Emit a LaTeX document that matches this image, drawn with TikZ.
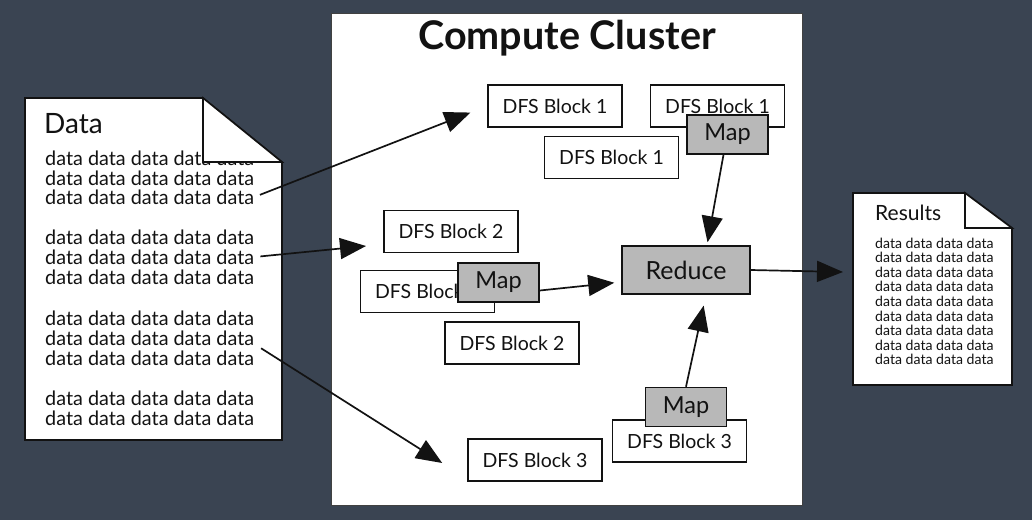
\documentclass[tikz,border=0pt]{standalone}
\usepackage{fontspec}
\setmainfont{Lato}
\usetikzlibrary{arrows.meta,calc}
\definecolor{slate}{RGB}{58,68,82}
\definecolor{mapgrey}{RGB}{184,184,184}
\definecolor{ink}{RGB}{18,18,18}
\begin{document}
\begin{tikzpicture}[x=1pt,y=-1pt,
  outline/.style={draw=ink,line width=1.6pt},
  blk/.style={outline,fill=white,minimum width=134pt,minimum height=42pt,inner sep=0pt,text=ink,font=\fontsize{19.5}{21}\selectfont},
  mapbox/.style={outline,fill=mapgrey,minimum width=81pt,minimum height=39pt,inner sep=0pt,text=ink,font=\fontsize{23.5}{25}\selectfont},
  dline/.style={anchor=west,inner sep=0pt,text=ink,font=\fontsize{19.8}{21}\selectfont},
  rline/.style={anchor=west,inner sep=0pt,text=ink,font=\fontsize{14.1}{15}\selectfont},
  arr/.style={draw=ink,line width=1.7pt,-{Triangle[length=26pt,width=21pt]}}
]
% canvas
\useasboundingbox (0,0) rectangle (1032,520);
\fill[slate] (0,0) rectangle (1032,520);

% input document
\draw[outline,fill=white] (25,98) -- (203,98) -- (282,162) -- (282,440) -- (25,440) -- cycle;
\node[anchor=west,inner sep=0pt,text=ink,font=\fontsize{28}{30}\selectfont] (dtitle) at (44,124) {Data};
\foreach \i/\y in {1/158,2/178,3/197,4/237,5/257,6/277,7/318,8/338,9/358,10/398,11/418}
  \node[dline] (d\i) at (45,\y) {data data data data data};
\draw[outline,fill=white] (203,98) -- (203,162) -- (282,162) -- cycle;

% cluster frame
\draw[draw=ink!80,line width=1pt,fill=white] (331,13) rectangle (802,505);
\node[inner sep=0pt,text=ink,font=\fontsize{39.5}{41}\bfseries\selectfont] (title) at (567,38) {Compute Cluster};

% DFS blocks and tasks
\node[blk] (b1a) at (555,106) {DFS Block 1};
\node[blk] (b1b) at (717.5,106) {DFS Block 1};
\node[mapbox] (map1) at (727.5,134.5) {Map};
\node[blk] (b1c) at (611.5,157.5) {DFS Block 1};
\node[blk] (b2a) at (451,231.5) {DFS Block 2};
\node[blk] (b2b) at (427.5,291.5) {DFS Block 2};
\node[mapbox] (map2) at (498.5,282.5) {Map};
\node[blk] (b2c) at (512,343) {DFS Block 2};
\node[blk,text depth=-8pt] (b3b) at (679.5,441) {DFS Block 3};
\node[mapbox] (map3) at (686,407) {Map};
\node[blk] (b3a) at (535,460) {DFS Block 3};
\node[mapbox,minimum width=128pt,minimum height=48pt,font=\fontsize{25}{27}\selectfont] (reduce) at (686,270) {Reduce};

% output document
\draw[outline,fill=white] (853,193) -- (965,193) -- (1012,228) -- (1012,385) -- (853,385) -- cycle;
\draw[outline,fill=white] (965,193) -- (965,228) -- (1012,228) -- cycle;
\node[anchor=west,inner sep=0pt,text=ink,font=\fontsize{21}{23}\selectfont] (rtitle) at (875,213) {Results};
\foreach \i in {1,...,9}
  \node[rline] (r\i) at (875,{243+14.6*(\i-1)}) {data data data data};

% data flow
\coordinate (t2) at (366,246);
\draw[arr,shorten <=6pt,shorten >=18pt] (d3.east) -- (b1a.west);
\draw[arr,shorten <=6pt] (d5.east) -- (t2);
\draw[arr,shorten <=8pt] ([yshift=-6pt]d8.east) -- ([xshift=-25pt,yshift=-3pt]b3a.west);
\draw[arr,shorten >=3pt] ([xshift=-4pt]map1.south) -- ([xshift=21pt]reduce.north);
\draw[arr,shorten >=7pt] ([yshift=-8pt]map2.east) -- ([yshift=-12pt]reduce.west);
\draw[arr,shorten >=11pt] (map3.north) -- ([xshift=20pt]reduce.south);
\draw[arr,shorten >=10pt] (reduce.east) -- (r3.west -| {(853,0)});
\end{tikzpicture}
\end{document}
